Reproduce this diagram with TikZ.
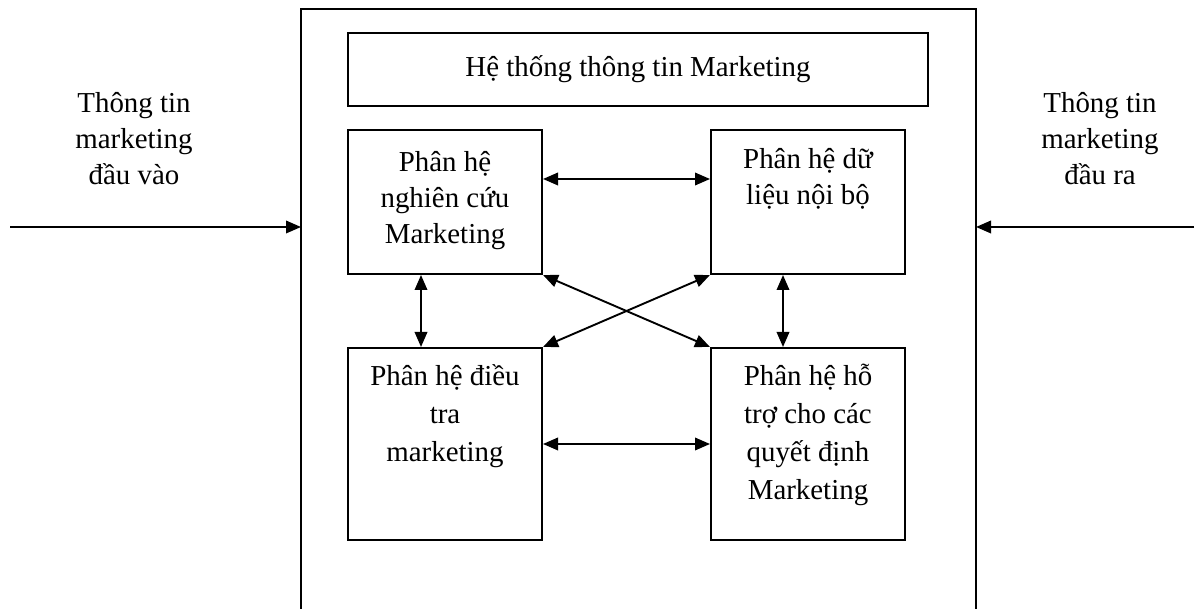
\documentclass[tikz,border=0pt]{standalone}
\usepackage{fontspec}
\setmainfont{Liberation Serif}
\usetikzlibrary{arrows.meta}

\tikzstyle{subBox} = [rectangle, draw, line width=2pt, minimum width=194pt, minimum height=144pt, inner sep=0pt]
\tikzstyle{bigBox} = [subBox, minimum height=192pt]
\tikzstyle{titleBox} = [rectangle, draw, line width=2pt, minimum width=580pt, minimum height=73pt, inner sep=0pt, font={\fontsize{28.9}{36.5}\selectfont}]
\tikzstyle{boxText} = [anchor=north, align=center, inner sep=0pt, font={\fontsize{28.9}{36}\selectfont}]
\tikzstyle{lowText} = [boxText, font={\fontsize{28.9}{38}\selectfont}]
\tikzstyle{link} = [line width=1.9pt, {Triangle[length=15pt,width=12.5pt]}-{Triangle[length=15pt,width=12.5pt]}]
\tikzstyle{flow} = [line width=1.9pt, -{Triangle[length=15pt,width=12.5pt]}]

\newcommand{\firstline}{\rule{0pt}{27pt}}

\begin{document}
\begin{tikzpicture}[x=1pt, y=-1pt]
            \useasboundingbox (0,0) rectangle (1195,609);
            % khung he thong
            \draw[line width=2pt] (301,609) -- (301,9) -- (976,9) -- (976,609);
            \node[titleBox] (HT) at (638,69.5) {Hệ thống thông tin Marketing};
            \node[subBox] (NC) at (445,202) {};
            \node[subBox, right of=NC, node distance=363pt] (DL) {};
            \node[bigBox] (DT) at (445,444) {};
            \node[bigBox, right of=DT, node distance=363pt] (HQ) {};
            \node[boxText] (NCt) at ([yshift=-15pt]NC.north) {\firstline Phân hệ\\nghiên cứu\\Marketing};
            \node[boxText] (DLt) at ([yshift=-12pt]DL.north) {\firstline Phân hệ dữ\\liệu nội bộ};
            \node[lowText] (DTt) at ([yshift=-11pt]DT.north) {\firstline Phân hệ điều\\tra\\marketing};
            \node[lowText] (HQt) at ([yshift=-11pt]HQ.north) {\firstline Phân hệ hỗ\\trợ cho các\\quyết định\\Marketing};
            % dau vao, dau ra
            \node[boxText] (VAO) at (134,85) {\firstline Thông tin\\marketing\\đầu vào};
            \node[boxText] (RA) at (1100,85) {\firstline Thông tin\\marketing\\đầu ra};
            \coordinate (srcL) at (10,227);
            \coordinate (inL) at (301,227);
            \coordinate (srcR) at (1194,227);
            \coordinate (inR) at (976,227);
            \draw[flow] (srcL) -- (inL);
            \draw[flow] (srcR) -- (inR);
            % lien ket giua cac phan he
            \draw[link] ([yshift=23pt]NC.east) -- ([yshift=23pt]DL.west);
            \draw[link] (DT.east) -- (HQ.west);
            \draw[link] ([xshift=-24pt]NC.south) -- ([xshift=-24pt]DT.north);
            \draw[link] ([xshift=-25pt]DL.south) -- ([xshift=-25pt]HQ.north);
            \draw[link] (NC.south east) -- (HQ.north west);
            \draw[link] (DL.south west) -- (DT.north east);
        \end{tikzpicture}
\end{document}
